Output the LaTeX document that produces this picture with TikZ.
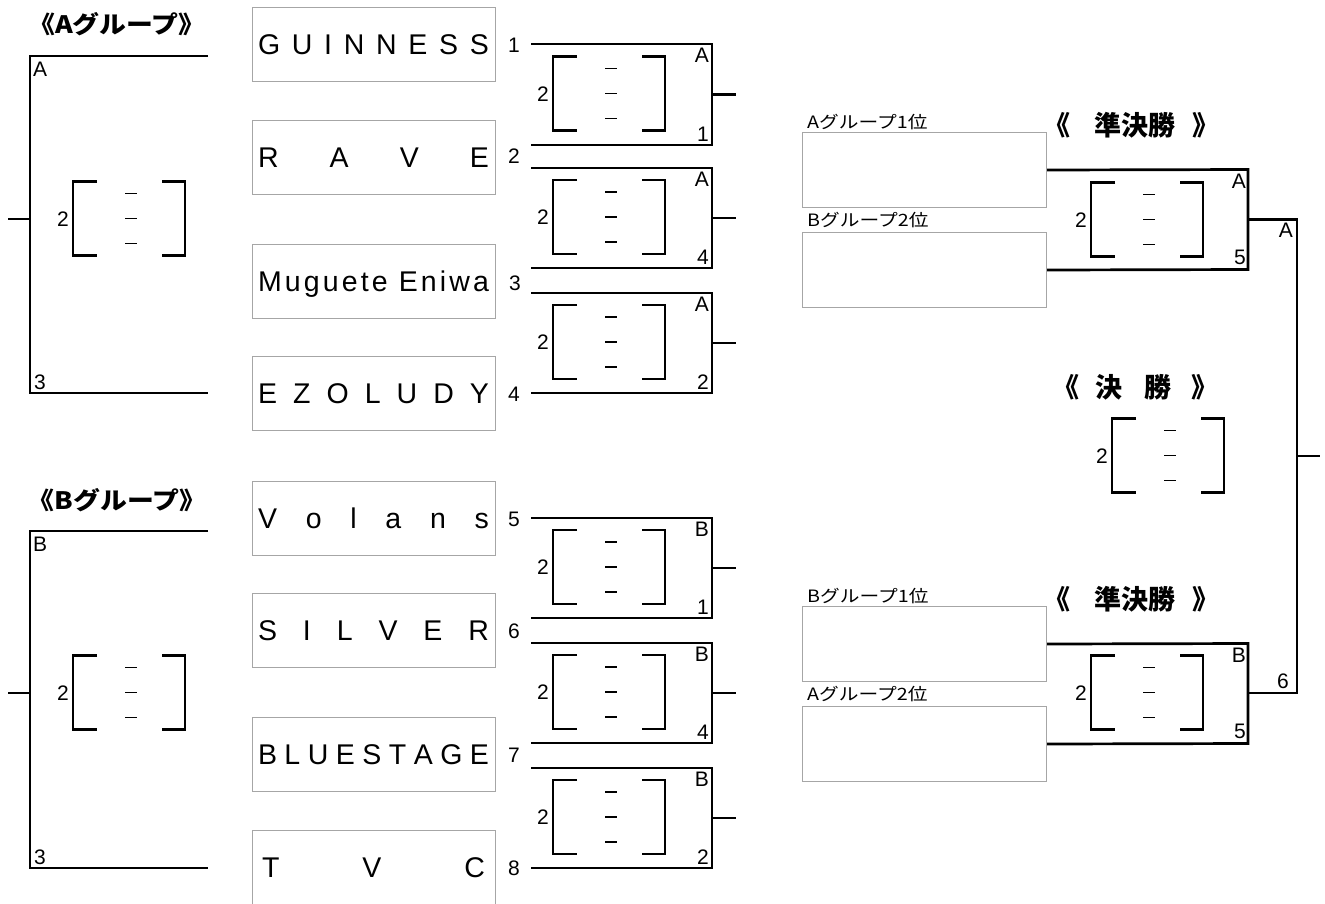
\documentclass[tikz,border=0pt]{standalone}
\usepackage{fontspec}
\setmainfont{Liberation Sans}
\newfontfamily\cjk{Noto Sans CJK JP}
\newcommand\myfs[1]{\fontsize{#1}{#1}\selectfont}
\tikzset{
  brk/.style={line width=2.7pt,line join=miter},
  dsh/.style={line width=1.6pt},
  tbox/.style={draw=black!35,line width=1pt,minimum width=243pt,minimum height=74pt,inner sep=0pt},
  sbox/.style={draw=black!35,line width=1pt,minimum width=244pt,minimum height=75pt,inner sep=0pt},
  nm/.style={inner sep=0pt,font=\myfs{28.5}},
  lbl/.style={inner sep=0pt,font=\myfs{21}},
  slbl/.style={inner sep=0pt,font=\cjk\myfs{17}},
  ttl/.style={inner sep=0pt,font=\cjk\bfseries\myfs{24}},
  ttlb/.style={inner sep=0pt,font=\cjk\bfseries\myfs{27}},
}
% score bracket: #1 name, #2 x of left bracket, #3 centre y
\newcommand\scb[3]{%
  \node[lbl,anchor=base] (#1n) at ({#2-10},{#3+7.5}) {2};
  \draw[brk] ({#2+24},{#3-37}) -| ({#2},{#3+37}) -- ({#2+24},{#3+37});
  \draw[brk] ({#2+89},{#3-37}) -| ({#2+112},{#3+37}) -- ({#2+89},{#3+37});
  \draw[dsh] ({#2+52},{#3-25}) -- ({#2+64},{#3-25});
  \draw[dsh] ({#2+52},{#3}) -- ({#2+64},{#3});
  \draw[dsh] ({#2+52},{#3+25}) -- ({#2+64},{#3+25});
}
\begin{document}
\begin{tikzpicture}[x=1pt,y=-1pt]
\useasboundingbox (0,0) rectangle (1325,903);

% ---------- group titles ----------
\node[ttl,anchor=base] (gAt) at (117,33) {\scalebox{1.12}[1]{《Aグループ》}};
\node[ttl,anchor=base] (gBt) at (117,509) {\scalebox{1.12}[1]{《Bグループ》}};

% ---------- group brackets (left) ----------
\coordinate (gA1) at (208,56); \coordinate (gA2) at (208,393);
\coordinate (gAx) at (8,219);
\draw[brk] (gA1) -- (30,56) -- (30,393) -- (gA2);
\draw[brk] (gAx) -- (30,219);
\node[lbl,anchor=north west] (gAa) at (33,62) {A};
\node[lbl,anchor=base west] (gA3) at (34,389) {3};
\scb{gAs}{73}{218.5}

\coordinate (gB1) at (208,531); \coordinate (gB2) at (208,868);
\coordinate (gBx) at (8,693);
\draw[brk] (gB1) -- (30,531) -- (30,868) -- (gB2);
\draw[brk] (gBx) -- (30,693);
\node[lbl,anchor=north west] (gBb) at (33,537) {B};
\node[lbl,anchor=base west] (gB3) at (34,864) {3};
\scb{gBs}{73}{692.5}

% ---------- team boxes ----------
\node[tbox] (t1) at (373.5,44) {};
\node[tbox] (t2) at (373.5,157) {};
\node[tbox] (t3) at (373.5,281.5) {};
\node[tbox] (t4) at (373.5,393.5) {};
\node[tbox] (t5) at (373.5,518.5) {};
\node[tbox] (t6) at (373.5,630.5) {};
\node[tbox] (t7) at (373.5,754.5) {};
\node[tbox] (t8) at (373.5,867.5) {};

\node[nm,anchor=base] (n1) at (373.5,54) {\makebox[231pt][s]{G\hfill U\hfill I\hfill N\hfill N\hfill E\hfill S\hfill S}};
\node[nm,anchor=base] (n2) at (373.5,167) {\makebox[231pt][s]{R\hfill A\hfill V\hfill E}};
\node[nm,anchor=base] (n3) at (373.5,291.5) {\makebox[231pt][s]{M\hfil u\hfil g\hfil u\hfil e\hfil t\hfil e\hfil\ E\hfil n\hfil i\hfil w\hfil a}};
\node[nm,anchor=base] (n4) at (373.5,403.5) {\makebox[231pt][s]{E\hfill Z\hfill O\hfill L\hfill U\hfill D\hfill Y}};
\node[nm,anchor=base] (n5) at (373.5,528.5) {\makebox[231pt][s]{V\hfill o\hfill l\hfill a\hfill n\hfill s}};
\node[nm,anchor=base] (n6) at (373.5,640.5) {\makebox[231pt][s]{S\hfill I\hfill L\hfill V\hfill E\hfill R}};
\node[nm,anchor=base] (n7) at (373.5,764.5) {\makebox[231pt][s]{B\hfil L\hfil U\hfil E\hfil S\hfil T\hfil A\hfil G\hfil E}};
\node[nm,anchor=base] (n8) at (373.5,877.5) {\makebox[223pt][s]{T\hfill V\hfill C}};

% ---------- seed numbers ----------
\node[lbl,anchor=base] (s1) at (514,52) {1};
\node[lbl,anchor=base] (s2) at (514,163.5) {2};
\node[lbl,anchor=base] (s3) at (515,290) {3};
\node[lbl,anchor=base] (s4) at (514,401) {4};
\node[lbl,anchor=base] (s5) at (514,526) {5};
\node[lbl,anchor=base] (s6) at (514,638) {6};
\node[lbl,anchor=base] (s7) at (514,762) {7};
\node[lbl,anchor=base] (s8) at (514,875) {8};

% ---------- first round matches ----------
\foreach \i/\yt/\yb/\g/\r in {1/44/145/A/1, 2/168/268/A/4, 3/293/393/A/2, 4/518/618/B/1, 5/643/743/B/4, 6/768/868/B/2}{
  \pgfmathsetmacro\ym{(\yt+\yb)/2}
  \pgfmathsetmacro\yc{\ym-1}
  \coordinate (m\i a) at (531,\yt);
  \coordinate (m\i b) at (531,\yb);
  \coordinate (m\i x) at (736,\ym);
  \draw[brk] (m\i a) -- (712,\yt) -- (712,\yb) -- (m\i b);
  \draw[brk] (712,\ym) -- (m\i x);
  \node[lbl,anchor=north east] (m\i g) at (709,{\yt+4}) {\g};
  \node[lbl,anchor=base east] (m\i r) at (709,{\yb-4}) {\r};
  \scb{m\i s}{553}{\yc}
}

% ---------- semifinals ----------
\node[slbl,anchor=base west] (lA1) at (807,128) {\scalebox{1.16}[1]{Aグループ1位}};
\node[sbox,anchor=north west] (sA1) at (802,132) {};
\node[slbl,anchor=base west] (lB2) at (807,226) {\scalebox{1.16}[1]{Bグループ2位}};
\node[sbox,anchor=north west] (sA2) at (802,232) {};

\node[slbl,anchor=base west] (lB1) at (807,602) {\scalebox{1.16}[1]{Bグループ1位}};
\node[sbox,anchor=north west] (sB1) at (802,606) {};
\node[slbl,anchor=base west] (lA2) at (807,700) {\scalebox{1.16}[1]{Aグループ2位}};
\node[sbox,anchor=north west] (sB2) at (802,706) {};

\draw[brk] (sA1.east) -- (1248,169.5) -- (1248,269.5) -- (sA2.east);
\draw[brk] (sB1.east) -- (1248,643.5) -- (1248,743.5) -- (sB2.east);
\node[lbl,anchor=north east] (sAg) at (1246,174) {A};
\node[lbl,anchor=base east] (sAr) at (1246,264) {5};
\node[lbl,anchor=north east] (sBg) at (1246,648) {B};
\node[lbl,anchor=base east] (sBr) at (1246,738) {5};
\scb{sAs}{1091}{219.5}
\scb{sBs}{1091}{692.5}

% semifinal titles
\node[ttlb,anchor=base east] (tA1) at (1071,135) {《};
\node[ttlb,anchor=base] (tA2) at (1135,135) {準決勝};
\node[ttlb,anchor=base west] (tA3) at (1192,135) {》};
\node[ttlb,anchor=base east] (tB1) at (1071,609) {《};
\node[ttlb,anchor=base] (tB2) at (1135,609) {準決勝};
\node[ttlb,anchor=base west] (tB3) at (1192,609) {》};

% ---------- final ----------
\coordinate (fA) at (1297,219.5);
\coordinate (fB) at (1297,693);
\coordinate (fx) at (1320,456);
\draw[brk] (1248,219.5) -- (fA) -- (fB) -- (1248,693);
\draw[brk] (1297,456) -- (fx);
\node[lbl,anchor=north east] (fAg) at (1293,223) {A};
\node[lbl,anchor=base east] (fBr) at (1289,688) {6};

\node[ttlb,anchor=base east] (tF1) at (1080,397) {《};
\node[ttlb,anchor=base] (tF2) at (1109,397) {決};
\node[ttlb,anchor=base] (tF3) at (1158,397) {勝};
\node[ttlb,anchor=base west] (tF4) at (1191,397) {》};
\scb{fs}{1112}{455.5}
\end{tikzpicture}
\end{document}
